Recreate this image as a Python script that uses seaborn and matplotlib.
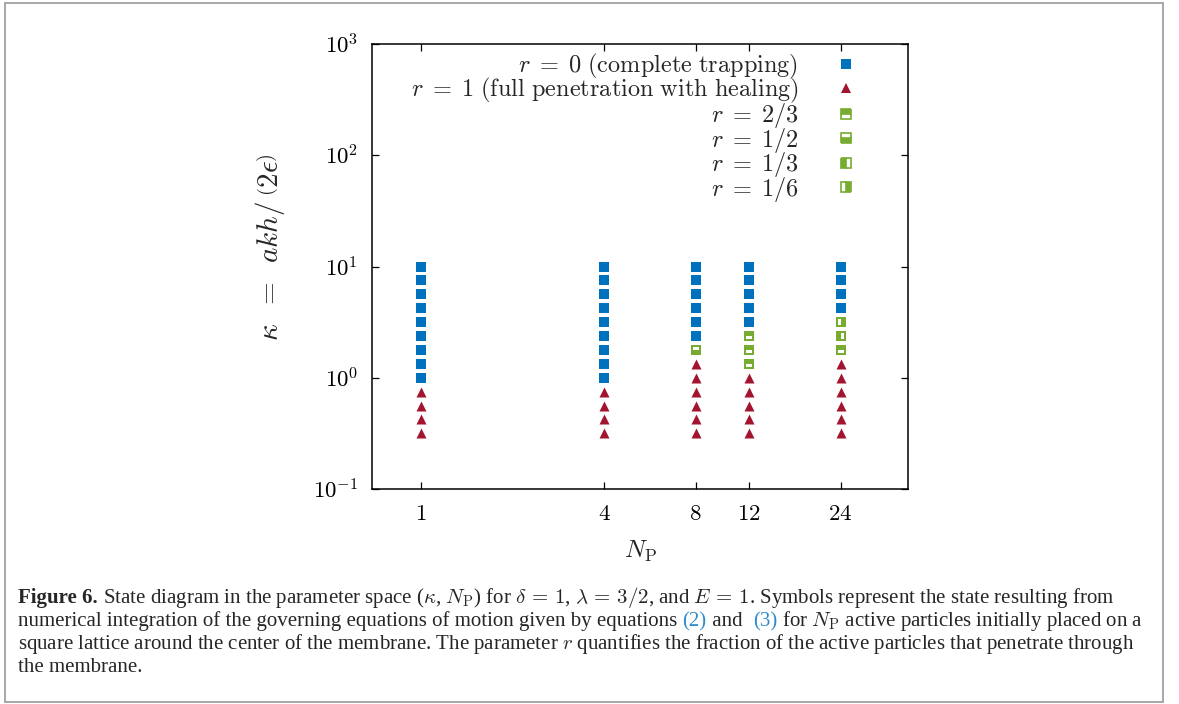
import numpy as np
import pandas as pd
import seaborn as sns
import matplotlib.pyplot as plt
from matplotlib.markers import MarkerStyle
from matplotlib.lines import Line2D
from matplotlib.patches import Rectangle

# ---------------- data ----------------
np_ticks = [1, 4, 8, 12, 24]
np_ticklabels = ["1", "4", "8", "12", "24"]

# r = 0 (complete trapping)
np_trap = [1] * 9 + [4] * 9 + [8] * 6 + [12] * 5 + [24] * 4
k_trap = ([1.0, 1.33, 1.78, 2.37, 3.16, 4.22, 5.62, 7.5, 10.0]
          + [1.0, 1.33, 1.78, 2.37, 3.16, 4.22, 5.62, 7.5, 10.0]
          + [2.37, 3.16, 4.22, 5.62, 7.5, 10.0]
          + [3.16, 4.22, 5.62, 7.5, 10.0]
          + [4.22, 5.62, 7.5, 10.0])

# r = 1 (full penetration with healing)
np_heal = [1] * 4 + [4] * 4 + [8] * 6 + [12] * 5 + [24] * 6
k_heal = ([0.316, 0.422, 0.562, 0.75]
          + [0.316, 0.422, 0.562, 0.75]
          + [0.316, 0.422, 0.562, 0.75, 1.0, 1.33]
          + [0.316, 0.422, 0.562, 0.75, 1.0]
          + [0.316, 0.422, 0.562, 0.75, 1.0, 1.33])

# partial penetration
np_r23 = [12, 12, 12, 24]
k_r23 = [1.33, 1.78, 2.37, 1.78]
np_r12 = [8]
k_r12 = [1.78]
np_r13 = [24]
k_r13 = [2.37]
np_r16 = [24]
k_r16 = [3.16]

labels = [r"$r\;=\;0\ \mathrm{(complete\ trapping)}$",
          r"$r\;=\;1\ \mathrm{(full\ penetration\ with\ healing)}$",
          r"$r\;=\;2/3$", r"$r\;=\;1/2$", r"$r\;=\;1/3$", r"$r\;=\;1/6$"]

BLUE = "#0072BD"
RED = "#A2142F"
GREEN = "#77AC30"

# ---------------- style ----------------
sns.set_style("ticks")
plt.rcParams['font.family'] = ['Liberation Serif', 'DejaVu Serif']
plt.rcParams['mathtext.fontset'] = 'cm'

W, H = 1179, 704
fig = plt.figure(figsize=(W / 100, H / 100), dpi=100)
ax = fig.add_axes([372 / W, 1 - 489 / H, (908 - 372) / W, (489 - 44) / H])

df_trap = pd.DataFrame({"N": np_trap, "k": k_trap})
df_heal = pd.DataFrame({"N": np_heal, "k": k_heal})
sns.scatterplot(data=df_trap, x="N", y="k", marker="s", color=BLUE, s=62,
                linewidth=0, ax=ax, zorder=3)
sns.scatterplot(data=df_heal, x="N", y="k", marker="^", color=RED, s=52,
                linewidth=0, ax=ax, zorder=3)

partial = [(np_r23, k_r23, "bottom"), (np_r12, k_r12, "top"),
           (np_r13, k_r13, "right"), (np_r16, k_r16, "left")]
for nn, kk, white_side in partial:
    d = pd.DataFrame({"N": nn, "k": kk})
    sns.scatterplot(data=d, x="N", y="k", marker="s", color=GREEN, s=62,
                    linewidth=0, ax=ax, zorder=3)
    sns.scatterplot(data=d, x="N", y="k", marker=MarkerStyle("s", fillstyle=white_side),
                    color="white", s=24, linewidth=0, ax=ax, zorder=4)

ax.set_xscale("log")
ax.set_yscale("log")
ax.set_xlim(0.69, 40)
ax.set_ylim(0.1, 1000)
ax.set_xticks(np_ticks, labels=[f"${t}$" for t in np_ticklabels])
ax.set_yticks([0.1, 1, 10, 100, 1000],
              labels=[r"$10^{-1}$", r"$10^{0}$", r"$10^{1}$", r"$10^{2}$", r"$10^{3}$"])
ax.minorticks_off()
ax.tick_params(which="major", direction="in", length=5, width=0.9,
               top=True, right=True, labelsize=16.5, colors="black")
ax.tick_params(axis="x", pad=11)
ax.tick_params(axis="y", pad=10)
for sp in ax.spines.values():
    sp.set_linewidth(1.1)
    sp.set_color("black")
    sp.set_visible(True)

ax.set_xlabel(r"$N_{\mathrm{P}}$", fontsize=18, labelpad=10)
ax.set_ylabel(r"$\kappa\;\;=\;\;akh/\:\left(2\epsilon\right)$", fontsize=21)
ax.yaxis.set_label_coords((287 - 372) / 536, (489 - 247) / 445)

# legend
def half(face_side):
    return Line2D([], [], linestyle="none", marker="s", markersize=7,
                  markerfacecolor=GREEN, markerfacecoloralt="white",
                  markeredgecolor=GREEN, markeredgewidth=1.2, fillstyle=face_side)

handles = [Line2D([], [], linestyle="none", marker="s", markersize=7, color=BLUE,
                  markeredgewidth=0),
           Line2D([], [], linestyle="none", marker="^", markersize=7, color=RED,
                  markeredgewidth=0),
           half("top"), half("bottom"), half("left"), half("right")]
ax.legend(handles, labels, loc="upper right", bbox_to_anchor=(0.925, 0.983),
          markerfirst=False, frameon=False, fontsize=17.5, borderpad=0,
          handlelength=1.8, handletextpad=1.05, labelspacing=-0.18,
          borderaxespad=0)

# caption
fig.canvas.draw()
renderer = fig.canvas.get_renderer()
CAP = 15.0

def place(y_px, segments, x0=18):
    x = x0
    for txt, kw in segments:
        t = fig.text(x / W, 1 - y_px / H, txt, fontsize=CAP, va="baseline",
                     ha="left", **kw)
        bb = t.get_window_extent(renderer)
        x += bb.width

LINK = "#2e8ccb"
place(603, [("Figure 6.", {"fontweight": "bold"}),
            (r" State diagram in the parameter space ($\kappa$, $N_{\mathrm{P}}$) for "
             r"$\delta\,=\,1$, $\lambda\,=\,3/2$, and $E\,=\,1$. Symbols represent the state resulting from", {})])
place(626, [("numerical integration of the governing equations of motion given by equations ", {}),
            ("(2)", {"color": LINK}), (" and  ", {}), ("(3)", {"color": LINK}),
            (r" for $N_{\mathrm{P}}$ active particles initially placed on a", {})])
place(649, [(r"square lattice around the center of the membrane. The parameter $r$ quantifies "
             r"the fraction of the active particles that penetrate through", {})])
place(672, [("the membrane.", {})])

fig.patches.append(Rectangle((5 / W, 2 / H), (1163 - 5) / W, (701 - 2) / H,
                             transform=fig.transFigure, fill=False,
                             edgecolor="#a0a0a0", linewidth=1.3))

fig.savefig("out.png", dpi=100)
